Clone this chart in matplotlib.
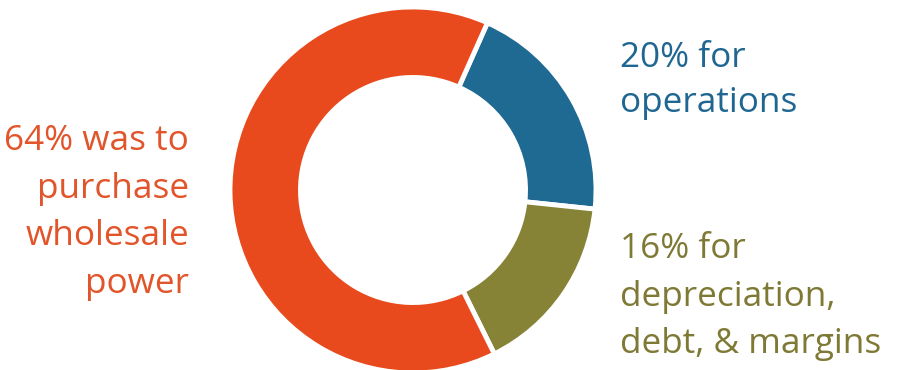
import matplotlib
matplotlib.use("Agg")
import matplotlib.pyplot as plt

categories = ["operations", "depreciation, debt, & margins", "wholesale power"]
values = [20, 16, 64]
colors = ["#1E6A93", "#878336", "#E84A1E"]
text_colors = ["#1F6792", "#7E7934", "#E2542A"]
label_lines = [
    ["20% for", "operations"],
    ["16% for", "depreciation,", "debt, & margins"],
    ["64% was to", "purchase", "wholesale", "power"],
]

W, H = 903, 370
fig = plt.figure(figsize=(W / 100, H / 100), dpi=100)
fig.patch.set_facecolor("white")

cx, cy, R = 413, 190, 183
ax = fig.add_axes([(cx - R) / W, (H - cy - R) / H, 2 * R / W, 2 * R / H])
ax.pie(values, colors=colors, startangle=66, counterclock=False, radius=1.0,
       wedgeprops=dict(width=0.385, edgecolor="white", linewidth=3.5))
ax.set_xlim(-1, 1)
ax.set_ylim(-1, 1)
ax.set_aspect("auto")
ax.axis("off")

font = "Open Sans"
fs = 25.3
# (x, first baseline y, line step, alignment) in pixels
layout = [
    (620, 67, 45.5, "left"),
    (620, 258, 47.5, "left"),
    (189, 150, 47.7, "right"),
]
for lines, col, (x, y0, step, ha) in zip(label_lines, text_colors, layout):
    for i, line in enumerate(lines):
        y = y0 + i * step
        fig.text(x / W, (H - y) / H, line, ha=ha, va="baseline",
                 fontsize=fs, color=col, family=font)

fig.savefig("out.png", dpi=100, facecolor="white")
